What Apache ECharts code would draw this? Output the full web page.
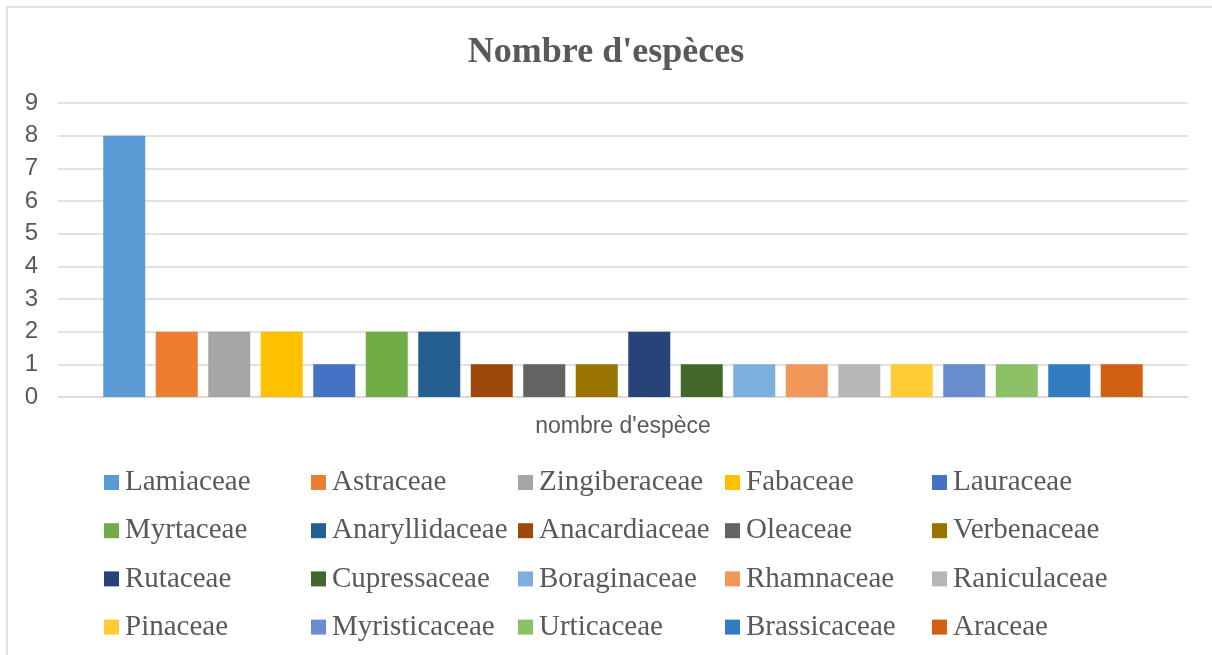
<!DOCTYPE html>
<html>
<head>
<meta charset="utf-8">
<script src="https://cdn.jsdelivr.net/npm/echarts@6/dist/echarts.min.js"></script>
<style>
	html, body { margin: 0; padding: 0; background: #fff; }
	#chart { width: 1212px; height: 655px; }
</style>
</head>
<body>
<div id="chart"></div>
<script>
// donnees du graphique
var categories = ["nombre d'espèce"];
var familles = ['Lamiaceae', 'Astraceae', 'Zingiberaceae', 'Fabaceae', 'Lauraceae',
	'Myrtaceae', 'Anaryllidaceae', 'Anacardiaceae', 'Oleaceae', 'Verbenaceae',
	'Rutaceae', 'Cupressaceae', 'Boraginaceae', 'Rhamnaceae', 'Raniculaceae',
	'Pinaceae', 'Myristicaceae', 'Urticaceae', 'Brassicaceae', 'Araceae'];
var nombres = [8, 2, 2, 2, 1, 2, 2, 1, 1, 1, 2, 1, 1, 1, 1, 1, 1, 1, 1, 1];
var couleurs = ['#5B9BD5', '#ED7D31', '#A5A5A5', '#FFC000', '#4472C4',
	'#70AD47', '#255E91', '#9E480E', '#636363', '#997300',
	'#264478', '#43682B', '#7CAFDD', '#F1975A', '#B7B7B7',
	'#FFCD33', '#698ED0', '#8CC168', '#327DC2', '#D26012'];
var yTicks = [0, 1, 2, 3, 4, 5, 6, 7, 8, 9];

var CHART = {
	COLS: 5,
	GREY: '#595959',

	ini: function(){
		var chart = echarts.init(document.getElementById('chart'));
		chart.setOption(this.getOption());
	},
	getSeries: function(){
		var series = [];
		for(var i = 0; i < familles.length; i++){
			series.push({
				name: familles[i],
				type: 'bar',
				barWidth: 42,
				barGap: '25%',
				itemStyle: {color: couleurs[i]},
				data: [nombres[i]]
			});
		}
		return series;
	},
	getLegends: function(){
		//une legende par colonne, 4 lignes
		var legends = [];
		for(var c = 0; c < this.COLS; c++){
			var names = [];
			for(var r = c; r < familles.length; r += this.COLS){
				names.push(familles[r]);
			}
			legends.push({
				orient: 'vertical',
				left: 104 + 207 * c,
				top: 468,
				padding: 0,
				itemGap: 19.2,
				itemWidth: 15,
				itemHeight: 15,
				icon: 'rect',
				textStyle: {
					fontFamily: '"Liberation Serif", "Times New Roman", serif',
					fontSize: 29,
					lineHeight: 28,
					color: this.GREY,
					padding: [0, 0, 0, 1]
				},
				data: names
			});
		}
		return legends;
	},
	getOption: function(){
		var me = this;
		return {
			animation: false,
			color: couleurs,
			title: {
				text: "Nombre d'espèces",
				left: 'center',
				top: 30,
				textStyle: {
					fontFamily: '"Liberation Serif", "Times New Roman", serif',
					fontWeight: 'bold',
					fontSize: 36,
					color: me.GREY
				}
			},
			graphic: [{
				type: 'rect',
				shape: {x: 7, y: 7, width: 1400, height: 800},
				style: {fill: 'none', stroke: '#d9d9d9', lineWidth: 1.5},
				silent: true
			}],
			legend: me.getLegends(),
			grid: {left: 58, right: 24, top: 103, height: 294, containLabel: false},
			xAxis: {
				type: 'category',
				data: categories,
				axisLine: {lineStyle: {color: '#d9d9d9', width: 1.5}},
				axisTick: {show: false},
				axisLabel: {
					margin: 18,
					fontFamily: '"Liberation Sans", Arial, sans-serif',
					fontSize: 23,
					color: me.GREY
				}
			},
			yAxis: {
				type: 'value',
				min: yTicks[0],
				max: yTicks[yTicks.length - 1],
				interval: 1,
				axisLine: {show: false},
				axisTick: {show: false},
				splitLine: {lineStyle: {color: '#d9d9d9', width: 1.5}},
				axisLabel: {
					margin: 20,
					fontFamily: '"Liberation Sans", Arial, sans-serif',
					fontSize: 24,
					color: me.GREY
				}
			},
			series: me.getSeries()
		};
	}
};

CHART.ini();
</script>
</body>
</html>
